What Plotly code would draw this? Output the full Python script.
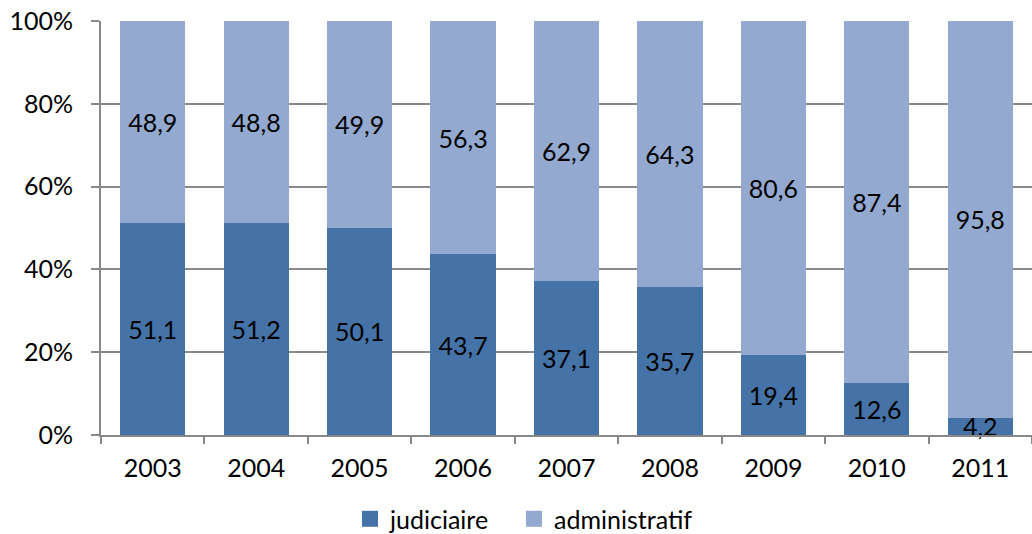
import plotly.graph_objects as go

years = ["2003", "2004", "2005", "2006", "2007", "2008", "2009", "2010", "2011"]
judiciaire = [51.1, 51.2, 50.1, 43.7, 37.1, 35.7, 19.4, 12.6, 4.2]
administratif = [48.9, 48.8, 49.9, 56.3, 62.9, 64.3, 80.6, 87.4, 95.8]
series_names = ["judiciaire", "administratif"]

def fr(v):
    return f"{v:.1f}".replace(".", ",")

FONT = "Lato, Carlito, Calibri, sans-serif"
dark = "#4573A7"
light = "#93A9D0"
grey = "#888888"

fig = go.Figure()
for name, vals, col in zip(series_names, [judiciaire, administratif], [dark, light]):
    fig.add_trace(go.Bar(
        x=years, y=vals, name=name, marker=dict(color=col, line=dict(width=0)),
        text=[fr(v) for v in vals], textposition="inside", insidetextanchor="middle",
        textangle=0, constraintext="none", textfont=dict(color="black", size=25, family=FONT),
        showlegend=False, cliponaxis=False,
    ))
# legend entries with larger square symbols, one legend box each
for name, col, lg in zip(series_names, [dark, light], ["legend", "legend2"]):
    fig.add_trace(go.Scatter(
        x=[None], y=[None], mode="markers", name=name, legend=lg,
        marker=dict(symbol="square", size=18, color=col), showlegend=True,
    ))

legend_common = dict(orientation="h", xanchor="left", xref="container", yref="container",
                     y=0.028, yanchor="middle", font=dict(size=25), itemwidth=30,
                     bgcolor="rgba(0,0,0,0)")

fig.update_layout(
    barmode="stack",
    bargap=0.37,
    width=1032, height=534,
    margin=dict(l=101, r=0, t=21, b=99),
    paper_bgcolor="white", plot_bgcolor="white",
    font=dict(family=FONT, size=25, color="black"),
    uniformtext=dict(minsize=25, mode="show"),
    showlegend=True,
    legend=dict(x=350 / 1032, **legend_common),
    legend2=dict(x=514 / 1032, **legend_common),
    xaxis=dict(showline=True, linecolor=grey, linewidth=2, ticks="outside", ticklen=7,
               tickcolor=grey, tickwidth=2, tickson="boundaries", showgrid=False,
               tickfont=dict(size=25), ticklabelstandoff=10, automargin=False),
    yaxis=dict(range=[0, 100], dtick=20, ticksuffix="%", showline=True, linecolor=grey,
               linewidth=2, ticks="outside", ticklen=8, tickcolor=grey, tickwidth=2,
               showgrid=True, gridcolor=grey, gridwidth=2, zeroline=False,
               tickfont=dict(size=25), ticklabelstandoff=13, automargin=False),
)

fig.write_html("out.html", config={"displayModeBar": False},
               post_script="document.body.style.margin='0';")
